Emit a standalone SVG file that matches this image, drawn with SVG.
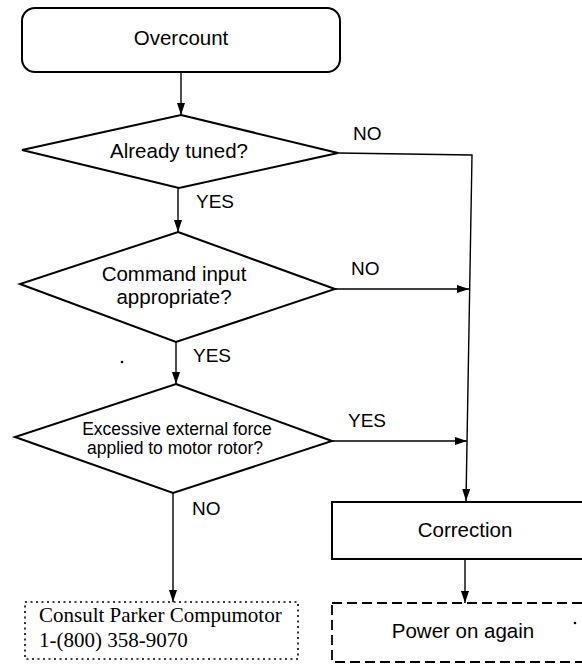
<svg xmlns="http://www.w3.org/2000/svg" width="582" height="665" viewBox="0 0 582 665">
<defs>
<marker id="ah" viewBox="0 0 12 8" refX="12" refY="4" markerWidth="12" markerHeight="8" markerUnits="userSpaceOnUse" orient="auto">
<path d="M0,0 L12,4 L0,8 Z" fill="#000"/>
</marker>
<style>
.shape{fill:#fff;stroke:#000;stroke-width:2}
.lbl{font-family:"Liberation Sans",Arial,sans-serif;font-size:20.5px;fill:#000;text-anchor:middle}
.yn{font-family:"Liberation Sans",Arial,sans-serif;font-size:19px;fill:#000}
.small{font-family:"Liberation Sans",Arial,sans-serif;font-size:17.5px;fill:#000;text-anchor:middle}
.serif{font-family:"Liberation Serif","Times New Roman",serif;font-size:21px;fill:#000}
.conn{fill:none;stroke:#000;stroke-width:1.4}
.arr{fill:none;stroke:#000;stroke-width:1.4;marker-end:url(#ah)}
</style>
</defs>
<rect width="582" height="665" fill="#fff"/>

<g id="connectors">
<line class="arr" x1="181" y1="72" x2="181" y2="115"/>
<line class="arr" x1="178" y1="188" x2="178" y2="232"/>
<line class="arr" x1="176" y1="342" x2="176" y2="384"/>
<line class="arr" x1="173" y1="493" x2="173" y2="602"/>
<polyline class="arr" points="338,153 472,155 466,501"/>
<line class="arr" x1="335" y1="289" x2="469" y2="289"/>
<line class="arr" x1="332" y1="441" x2="467" y2="441"/>
<line class="arr" x1="465" y1="559" x2="465" y2="603"/>
<text class="yn" x="353" y="140">NO</text>
<text class="yn" x="196" y="208">YES</text>
<text class="yn" x="351" y="275">NO</text>
<text class="yn" x="193" y="362">YES</text>
<text class="yn" x="348" y="427">YES</text>
<text class="yn" x="192" y="515">NO</text>
</g>

<g id="overcount">
<rect class="shape" x="22" y="8" width="318" height="64" rx="13" ry="13"/>
<text class="lbl" x="181" y="45">Overcount</text>
</g>

<g id="already-tuned">
<polygon class="shape" points="181,115 338,153 179,188 22,150"/>
<text class="lbl" x="179" y="158">Already tuned?</text>
</g>

<g id="command-input">
<polygon class="shape" points="178,232 335,289 176,342 20,284"/>
<text class="lbl" x="174" y="281">Command input</text>
<text class="lbl" x="174" y="304">appropriate?</text>
</g>

<g id="external-force">
<polygon class="shape" points="176,384 332,441 173,493 15,437"/>
<text class="small" x="177" y="435">Excessive external force</text>
<text class="small" x="175" y="454">applied to motor rotor?</text>
</g>

<g id="consult">
<rect x="25" y="602" width="273" height="57" fill="#fff" stroke="#000" stroke-width="1.6" stroke-dasharray="2 3.5"/>
<text class="serif" x="39" y="622">Consult Parker Compumotor</text>
<text class="serif" x="39" y="647">1-(800) 358-9070</text>
</g>

<g id="correction">
<rect class="shape" x="332" y="502" width="262" height="57"/>
<text class="lbl" x="465" y="537">Correction</text>
</g>

<g id="power-on">
<rect x="332" y="603" width="262" height="59" fill="none" stroke="#000" stroke-width="1.8" stroke-dasharray="10 5"/>
<text class="lbl" x="463" y="638">Power on again</text>
</g>

<circle cx="122" cy="362" r="1.3" fill="#000"/>
<circle cx="575" cy="623" r="1.3" fill="#000"/>
</svg>
